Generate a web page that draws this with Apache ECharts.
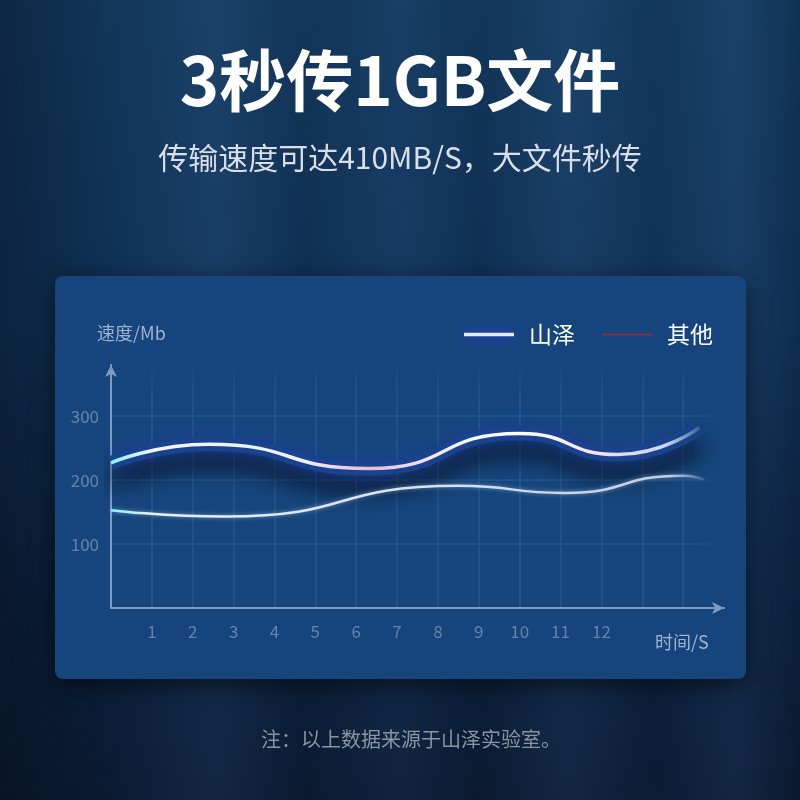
<!DOCTYPE html>
<html>
<head>
<meta charset="utf-8">
<script src="https://cdn.jsdelivr.net/npm/echarts@6/dist/echarts.min.js"></script>
<style>
html,body{margin:0;padding:0;width:800px;height:800px;overflow:hidden;}
body{
background:
 linear-gradient(90deg, rgba(0,0,0,0.30) 0%, rgba(0,0,0,0.06) 14%, rgba(120,170,230,0.08) 27%, rgba(0,0,0,0.08) 38%, rgba(120,170,230,0.05) 50%, rgba(0,0,0,0.08) 60%, rgba(120,170,230,0.08) 71%, rgba(0,0,0,0.04) 82%, rgba(120,170,230,0.08) 92%, rgba(0,0,0,0.12) 100%),
 linear-gradient(180deg, #13395f 0%, #103359 40%, #0c2544 70%, #0a1c34 100%);
}
#chart{width:800px;height:800px;}
</style>
</head>
<body>
<div id="chart"></div>
<script>
// ---- data (time in s, speed in Mb) ----
var shanzeTime  = [0, 2.4, 6.3, 10.0, 12.4, 14.4];
var shanzeSpeed = [227, 256, 218, 273, 240, 282];
var otherTime   = [0, 2.8, 8.5, 11.1, 14.0, 14.5];
var otherSpeed  = [153, 143, 191, 180, 207, 201];
var xTickLabels = ['1','2','3','4','5','6','7','8','9','10','11','12'];
var yTickLabels = [100, 200, 300];
var seriesNames = ['山泽', '其他'];

function zip(xs, ys){ return xs.map(function(x,i){ return [x, ys[i]]; }); }

var FONT = '"Noto Sans CJK SC", "Noto Sans", sans-serif';
var cardColor = '#15457c';
var gridColor = '#21578f';
var vGrad = new echarts.graphic.LinearGradient(0,0,0,1,[
  {offset:0, color:'rgba(33,87,143,0)'},
  {offset:0.14, color:gridColor},
  {offset:1, color:gridColor}
]);
var hGrad = new echarts.graphic.LinearGradient(0,0,1,0,[
  {offset:0, color:gridColor},
  {offset:0.93, color:gridColor},
  {offset:1, color:'rgba(33,87,143,0)'}
]);
var vLineColors = ['rgba(0,0,0,0)'];
for (var k = 1; k <= 14; k++) vLineColors.push(vGrad);
vLineColors.push('rgba(0,0,0,0)');

var chart = echarts.init(document.getElementById('chart'), null, {renderer:'canvas'});
chart.setOption({
  backgroundColor: 'transparent',
  animation: false,
  title: [
    {text: '3秒传1GB文件', left: 'center', top: 42,
     textStyle: {color:'#ffffff', fontSize: 67, fontWeight: 'bold', fontFamily: FONT}},
    {text: '传输速度可达410MB/S，大文件秒传', left: 'center', top: 138,
     textStyle: {color:'#d9dee7', fontSize: 30, fontWeight: 'normal', fontFamily: FONT}},
    {text: '注：以上数据来源于山泽实验室。', left: 256, top: 724,
     textStyle: {color:'#8994a4', fontSize: 20, fontWeight: 'normal', fontFamily: FONT}}
  ],
  graphic: [
    {type:'rect', z:-10, shape:{x:55, y:276, width:691, height:403, r:8},
     style:{fill:cardColor, shadowBlur:25, shadowColor:'rgba(0,0,0,0.55)', shadowOffsetY:6}},
    {type:'text', z:5, x:97, y:333, style:{text:'速度/Mb', fill:'#9fb3d1', font:'18px '+FONT, textVerticalAlign:'middle'}},
    {type:'text', z:5, x:655, y:642, style:{text:'时间/S', fill:'#9fb3d1', font:'18px '+FONT, textVerticalAlign:'middle'}}
  ],
  legend: {
    right: 82, top: 318,
    itemWidth: 50, itemHeight: 12, itemGap: 26,
    itemStyle: {color:'rgba(0,0,0,0)', borderWidth:0, opacity:0},
    textStyle: {color:'#ffffff', fontSize: 23, fontFamily: FONT, padding:[0,0,0,10]},
    data: [
      {name: seriesNames[0], lineStyle:{color:'#e6ecff', width:3.5, shadowColor:'#3236ff', shadowBlur:12}},
      {name: seriesNames[1], lineStyle:{color:'#8e2c3e', width:2}}
    ]
  },
  grid: {left: 111, right: 76, top: 365, bottom: 192},
  xAxis: {
    type: 'value', min: 0, max: 15, interval: 1,
    axisLine: {show:true, symbol:['none','arrow'], symbolSize:[9,12], lineStyle:{color:'#7f9cc0', width:2}},
    axisTick: {show:false},
    axisLabel: {color:'#6583ad', fontSize:17, fontFamily: FONT, margin: 15,
      formatter: function(v){ return (v>=1 && v<=xTickLabels.length) ? xTickLabels[v-1] : ''; }},
    splitLine: {show:true, lineStyle:{color: vLineColors, width:1.5}}
  },
  yAxis: {
    type: 'value', min: 0, max: 380, interval: 20,
    axisLine: {show:true, symbol:['none','arrow'], symbolSize:[9,12], lineStyle:{color:'#7f9cc0', width:2}},
    axisTick: {show:false},
    axisLabel: {color:'#6583ad', fontSize:17, fontFamily: FONT, margin: 12,
      formatter: function(v){ return yTickLabels.indexOf(v) >= 0 ? String(v) : ''; }},
    splitLine: {show:true, lineStyle:{color:[hGrad,'rgba(0,0,0,0)','rgba(0,0,0,0)','rgba(0,0,0,0)','rgba(0,0,0,0)'], width:1.5}}
  },
  series: [
    {
      name: seriesNames[0] + '阴影', type:'line', smooth:0.55, symbol:'none', silent:true, z:2,
      data: zip(shanzeTime, shanzeSpeed),
      lineStyle: {width:14, color:cardColor, shadowBlur:22, shadowColor:'rgba(5,14,34,1)', shadowOffsetY:16}
    },
    {
      name: seriesNames[0], type:'line', smooth:0.55, symbol:'none', z:4,
      color: '#e6ecff',
      data: zip(shanzeTime, shanzeSpeed),
      lineStyle: {width:3.5, shadowColor:'#3236ff', shadowBlur:18,
        color: new echarts.graphic.LinearGradient(0,0,1,0,[
          {offset:0, color:'#7ff2ff'},
          {offset:0.07, color:'#f1f5ff'},
          {offset:0.33, color:'#eef0ff'},
          {offset:0.44, color:'#e9b9d9'},
          {offset:0.56, color:'#f2efff'},
          {offset:0.7, color:'#ffffff'},
          {offset:0.84, color:'#f3dce2'},
          {offset:0.94, color:'#c9d6ee'},
          {offset:1, color:'rgba(200,220,255,0.15)'}
        ])}
    },
    {
      name: seriesNames[1], type:'line', smooth:0.55, symbol:'none', z:3,
      color: '#8e2c3e',
      data: zip(otherTime, otherSpeed),
      lineStyle: {width:2.5, shadowColor:'rgba(200,225,255,0.5)', shadowBlur:4,
        color: new echarts.graphic.LinearGradient(0,0,1,0,[
          {offset:0, color:'#80f4ff'},
          {offset:0.07, color:'#e9eff8'},
          {offset:0.6, color:'#d6deec'},
          {offset:0.94, color:'#c2cde0'},
          {offset:1, color:'rgba(190,205,230,0.15)'}
        ])}
    }
  ]
});
</script>
</body>
</html>
